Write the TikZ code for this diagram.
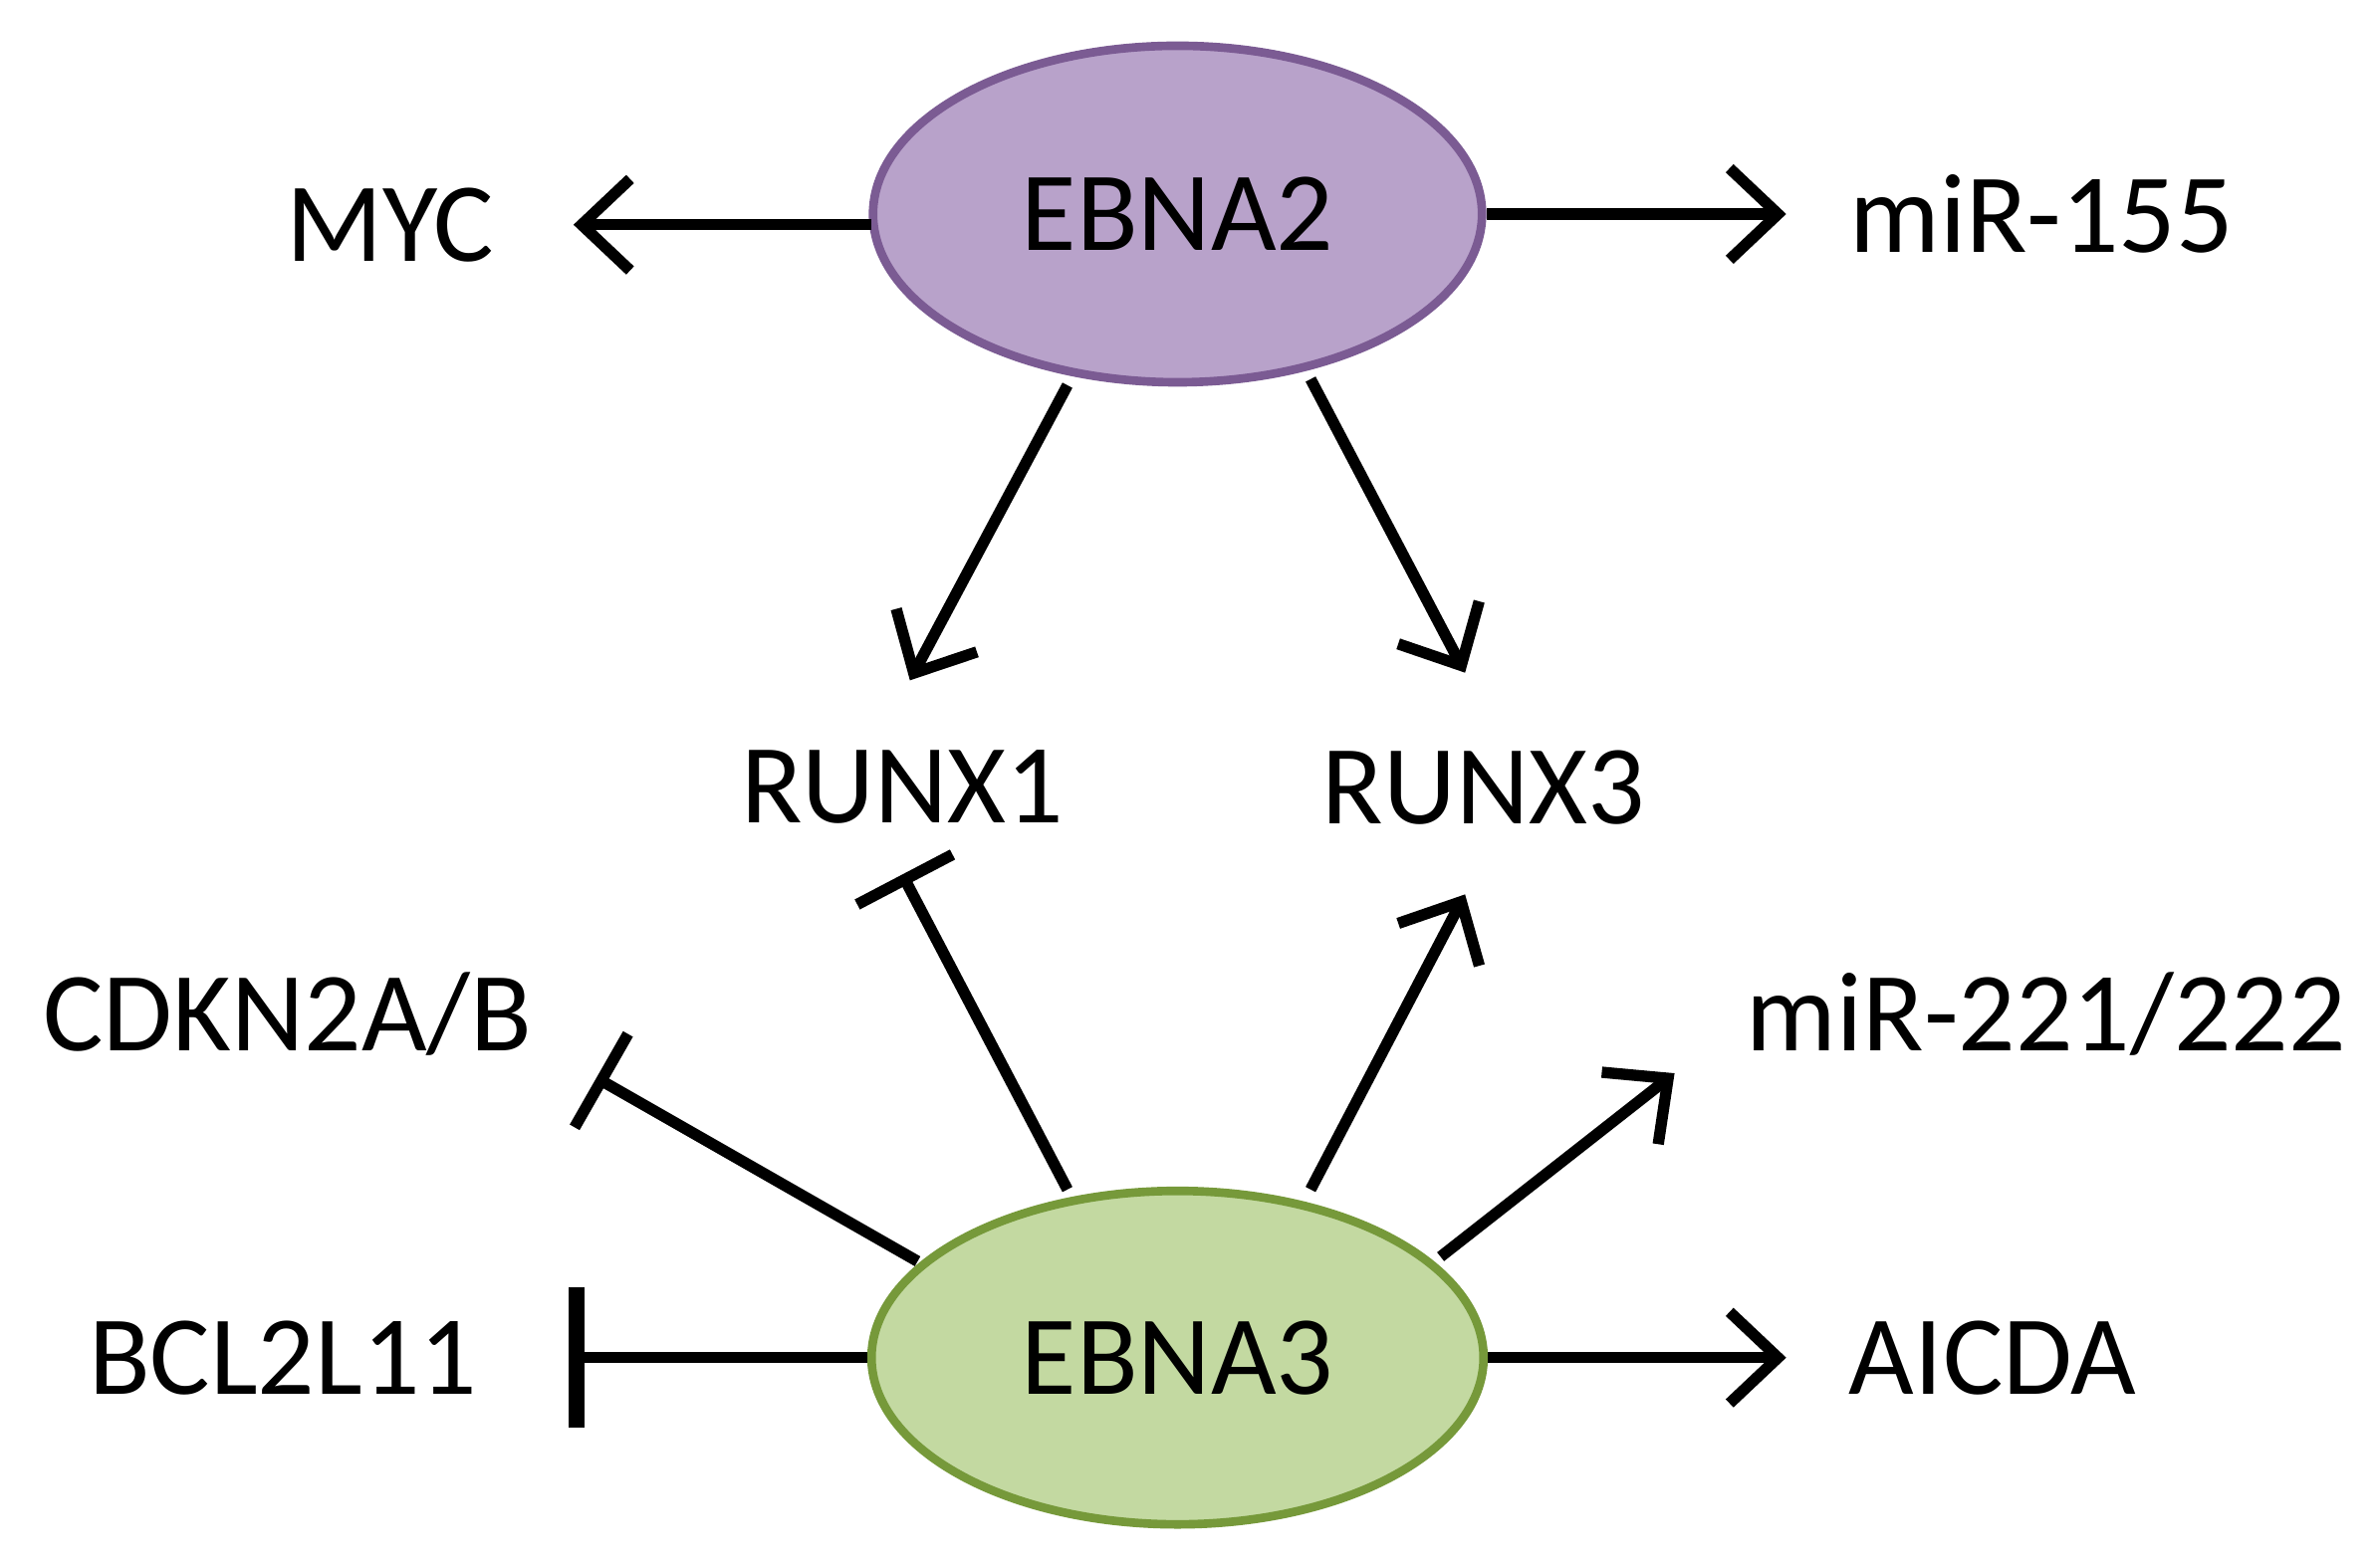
\documentclass[tikz,border=0pt]{standalone}
\usepackage{fontspec}
\setmainfont{Carlito}
\usetikzlibrary{arrows.meta,shapes.geometric}
\begin{document}
\begin{tikzpicture}[x=0.01cm,y=-0.01cm,
  lbl/.style={font=\fontsize{21}{24}\selectfont,inner sep=0},
  act/.style={line width=2.1pt,-{Straight Barb[length=9pt,width=17pt,line width=2.1pt]}},
  inh/.style={line width=2.1pt,-{Bar[width=20pt,line width=2.1pt]}},
  inhb/.style={line width=2.1pt,-{Bar[width=26pt,line width=3pt]}}]
\useasboundingbox (0,0) rectangle (1555,1025);
\definecolor{pf}{HTML}{B8A2CA}\definecolor{pd}{HTML}{7B5B93}
\definecolor{gf}{HTML}{C3D9A1}\definecolor{gd}{HTML}{76993A}
\node[draw=pd,fill=pf,line width=1.6pt,ellipse,minimum width=3.98cm,minimum height=2.2cm,inner sep=0,font=\fontsize{21}{24}\selectfont] (e2) at (770,140) {EBNA2};
\node[draw=gd,fill=gf,line width=1.6pt,ellipse,minimum width=4.0cm,minimum height=2.18cm,inner sep=0,font=\fontsize{21}{24}\selectfont] (e3) at (770,888) {EBNA3};
\node[lbl] (myc) at (255,147) {MYC};
\node[lbl] (m155) at (1335,140) {miR-155};
\node[lbl] (r1) at (590,515) {RUNX1};
\node[lbl] (r3) at (970,515) {RUNX3};
\node[lbl] (cdk) at (188,663) {CDKN2A/B};
\node[lbl] (m221) at (1338,663) {miR-221/222};
\node[lbl] (bcl) at (185,888) {BCL2L11};
\node[lbl] (aic) at (1303,888) {AICDA};
\coordinate (a1) at (375,147); \coordinate (a2) at (1168,140);
\coordinate (a3) at (595,445); \coordinate (a4) at (958,440);
\coordinate (a5) at (590,572); \coordinate (a6) at (958,585);
\coordinate (a7) at (390,705); \coordinate (a8) at (1095,702);
\coordinate (a9) at (372,888); \coordinate (a10) at (1168,888);
\coordinate (s1) at (698,778); \coordinate (s2) at (857,778);
\coordinate (t1) at (570,147); \coordinate (t2) at (972,140);
\coordinate (t3) at (698,252); \coordinate (t4) at (857,248);
\coordinate (t5) at (600,825); \coordinate (t6) at (942,822);
\draw[act] (t1) -- (a1);
\draw[act] (t2) -- (a2);
\draw[act] (t3) -- (a3);
\draw[act] (t4) -- (a4);
\draw[inh] (s1) -- (a5);
\draw[act] (s2) -- (a6);
\draw[inh] (t5) -- (a7);
\draw[act] (t6) -- (a8);
\draw[inhb] (e3.west) -- (a9);
\draw[act] (e3.east) -- (a10);
\end{tikzpicture}
\end{document}
